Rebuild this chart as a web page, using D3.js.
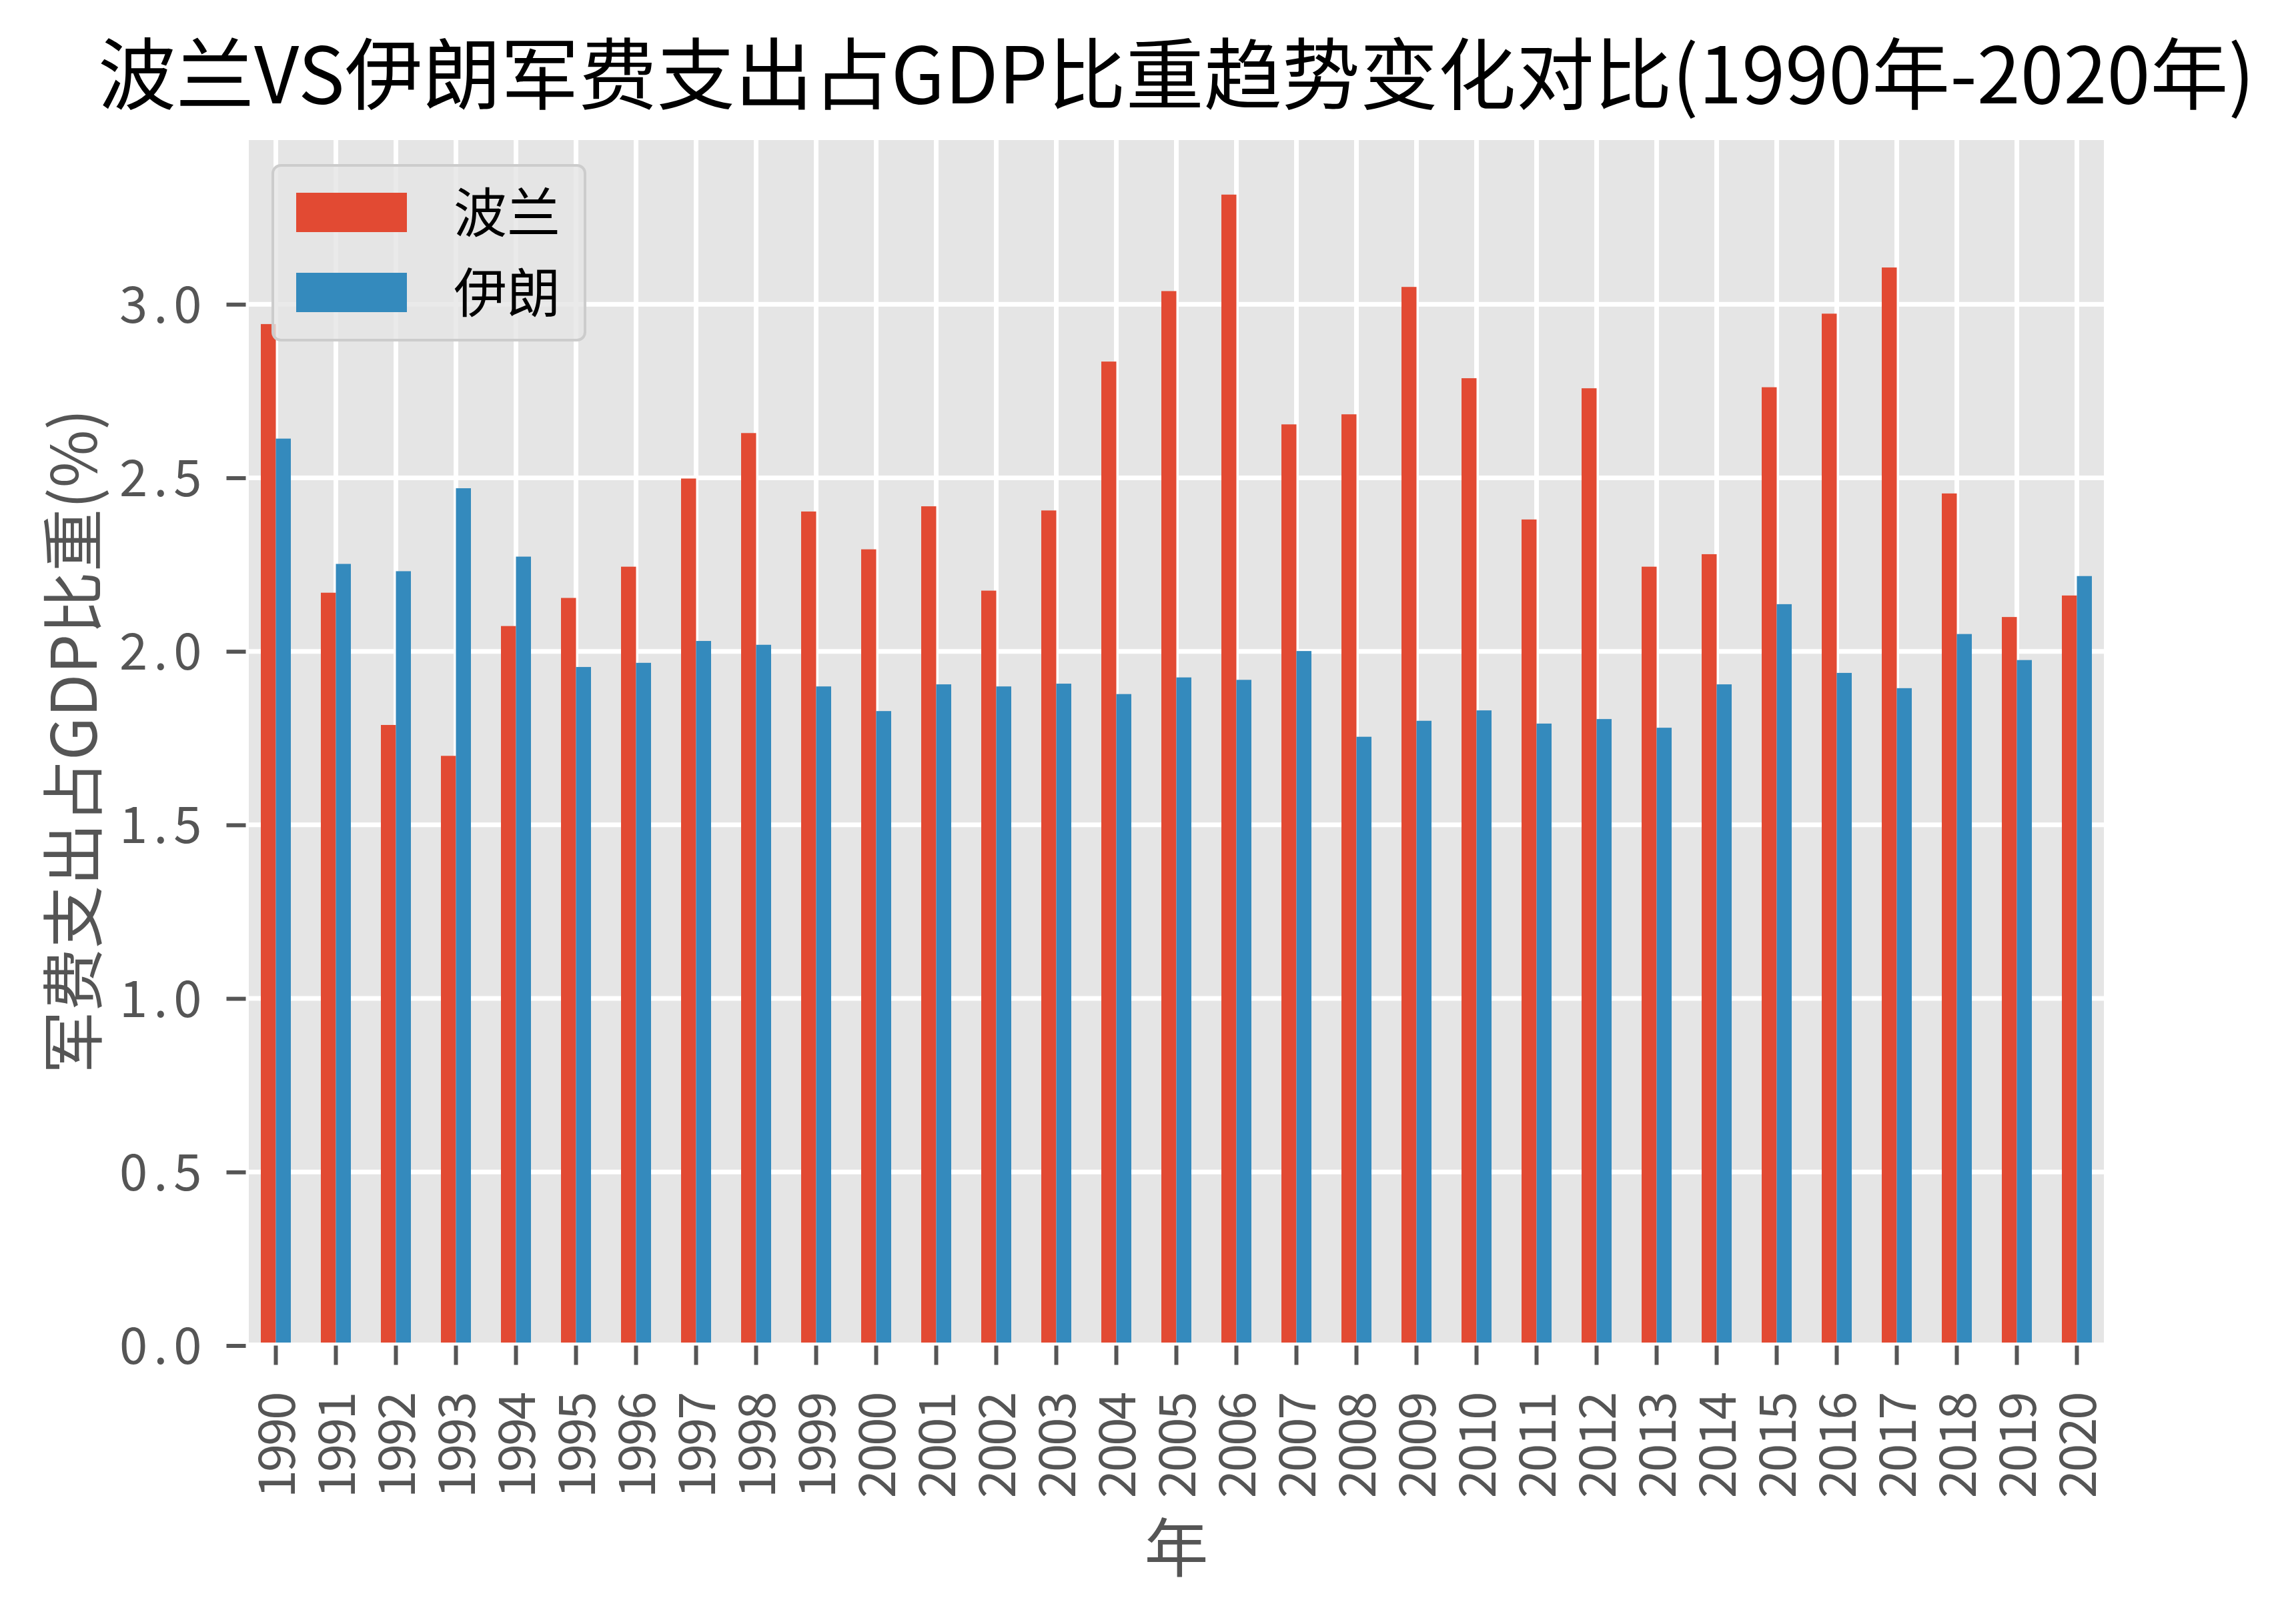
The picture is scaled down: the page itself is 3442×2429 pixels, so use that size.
<!DOCTYPE html>
<html>
<head>
<meta charset="utf-8">
<script src="https://cdn.jsdelivr.net/npm/d3@7"></script>
<style>
  html, body { margin: 0; padding: 0; background: #fff; }
  svg { display: block; }
  text { font-family: "Noto Sans CJK SC", "Noto Sans", sans-serif; }
</style>
</head>
<body>
<script>
const years = ["1990","1991","1992","1993","1994","1995","1996","1997","1998","1999","2000","2001","2002","2003","2004","2005","2006","2007","2008","2009","2010","2011","2012","2013","2014","2015","2016","2017","2018","2019","2020"];
const poland = [2.943,2.169,1.788,1.699,2.073,2.154,2.244,2.498,2.629,2.403,2.294,2.418,2.175,2.406,2.835,3.038,3.316,2.654,2.683,3.050,2.787,2.380,2.758,2.244,2.280,2.761,2.973,3.106,2.455,2.099,2.161];
const iran = [2.613,2.252,2.231,2.470,2.273,1.955,1.967,2.030,2.019,1.899,1.828,1.905,1.899,1.907,1.877,1.925,1.918,2.001,1.754,1.800,1.830,1.792,1.805,1.780,1.905,2.136,1.938,1.894,2.050,1.975,2.217];
const seriesNames = ["波兰", "伊朗"];
const yTicks = [0, 0.5, 1.0, 1.5, 2.0, 2.5, 3.0];
const titleText = "波兰VS伊朗军费支出占GDP比重趋势变化对比(1990年-2020年)";
const xLabel = "年";
const yLabel = "军费支出占GDP比重(%)";

const W = 3442, H = 2429;
const L = 368.5, R = 3158.5, T = 205.5, B = 2017.5;
const colors = ["#E24A33", "#348ABD"];

const svg = d3.select("body").append("svg").attr("width", W).attr("height", H);
svg.append("rect").attr("width", W).attr("height", H).attr("fill", "#fff");

const x = d3.scaleBand().domain(years).range([L, R]).paddingInner(0).paddingOuter(0);
const yMax = d3.max(poland.concat(iran)) * 1.05;
const y = d3.scaleLinear().domain([0, yMax]).range([B, T]);
const bw = x.bandwidth();

// plot background
svg.append("rect").attr("x", L).attr("y", T).attr("width", R - L).attr("height", B - T).attr("fill", "#E5E5E5");

// grid
const grid = svg.append("g");
grid.selectAll("line.v").data(years).join("line")
  .attr("x1", d => x(d) + bw / 2).attr("x2", d => x(d) + bw / 2)
  .attr("y1", T).attr("y2", B).attr("stroke", "#fff").attr("stroke-width", 7);
grid.selectAll("line.h").data(yTicks).join("line")
  .attr("x1", L).attr("x2", R)
  .attr("y1", d => y(d)).attr("y2", d => y(d)).attr("stroke", "#fff").attr("stroke-width", 7);

// bars
const series = [poland, iran];
series.forEach((vals, si) => {
  svg.append("g").selectAll("rect").data(vals).join("rect")
    .attr("x", (d, i) => x(years[i]) + bw * 0.25 + si * bw * 0.25)
    .attr("width", bw * 0.25)
    .attr("y", d => y(d))
    .attr("height", d => y(0) - y(d))
    .attr("fill", colors[si]);
});

// white spines
svg.append("rect").attr("x", L).attr("y", T).attr("width", R - L).attr("height", B - T)
  .attr("fill", "none").attr("stroke", "#fff").attr("stroke-width", 9);

// y axis
const yAxis = svg.append("g").attr("transform", `translate(${L},0)`)
  .call(d3.axisLeft(y).tickValues(yTicks).tickFormat(d3.format(".1f")).tickSize(29).tickPadding(28));
yAxis.select(".domain").remove();
yAxis.selectAll(".tick line").attr("stroke", "#555555").attr("stroke-width", 6);
yAxis.selectAll(".tick text")
  .attr("fill", "#555555").style("font-size", "76px").style("letter-spacing", "9px")
  .attr("dy", null).attr("dominant-baseline", null)
  .attr("y", 27);

// x axis
const xAxis = svg.append("g").attr("transform", `translate(0,${B})`)
  .call(d3.axisBottom(x).tickSize(29).tickPadding(0));
xAxis.select(".domain").remove();
xAxis.selectAll(".tick line").attr("stroke", "#555555").attr("stroke-width", 6);
xAxis.selectAll(".tick text")
  .attr("fill", "#555555").style("font-size", "76px").style("letter-spacing", "-3px")
  .attr("dy", null).attr("y", null)
  .attr("text-anchor", "end")
  .attr("transform", "translate(28,72) rotate(-90)");

// title
svg.append("text").attr("x", (L + R) / 2).attr("y", 155)
  .attr("text-anchor", "middle").attr("fill", "#000")
  .style("font-size", "117px").text(titleText);

// axis labels
svg.append("text").attr("x", (L + R) / 2).attr("y", 2356)
  .attr("text-anchor", "middle").attr("fill", "#555555")
  .style("font-size", "96px").text(xLabel);
svg.append("text")
  .attr("transform", `translate(${109 + 0.38 * 94},${(T + B) / 2}) rotate(-90)`)
  .attr("text-anchor", "middle").attr("fill", "#555555")
  .style("font-size", "94px").text(yLabel);

// legend
const lg = svg.append("g");
lg.append("rect").attr("x", 409).attr("y", 248).attr("width", 468).attr("height", 262)
  .attr("rx", 12).attr("ry", 12)
  .attr("fill", "#E5E5E5").attr("fill-opacity", 0.8)
  .attr("stroke", "#cccccc").attr("stroke-width", 4);
seriesNames.forEach((name, i) => {
  lg.append("rect").attr("x", 444).attr("y", 289 + i * 120).attr("width", 166).attr("height", 59)
    .attr("fill", colors[i]);
  lg.append("text").attr("x", 680).attr("y", 348 + i * 120).attr("fill", "#000")
    .style("font-size", "80px").text(name);
});
</script>
</body>
</html>
